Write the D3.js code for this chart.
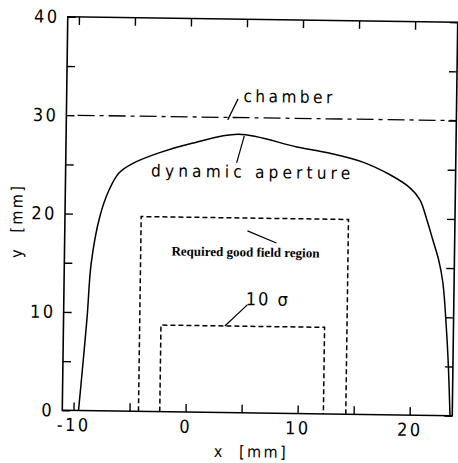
<!DOCTYPE html>
<html>
<head>
<meta charset="utf-8">
<script src="https://cdn.jsdelivr.net/npm/d3@7"></script>
<style>
  html, body { margin: 0; padding: 0; background: #fff; }
  svg { display: block; }
  .num { font-family: "Liberation Sans Narrow", "DejaVu Sans Condensed", sans-serif; font-stretch: condensed; }
</style>
</head>
<body>
<svg></svg>
<script>
var width = 458,
    height = 463,
    margin = { top: 19.5, left: 65, right: 3, bottom: 50 }
var plotW = width - margin.left - margin.right,
    plotH = height - margin.top - margin.bottom

// dynamic aperture boundary (mm)
var apertureX = [-9.55, -9.35, -8.9, -8.6, -7.9, -7.1, -6.24, -5.0, -2.7, 0.33, 4.4, 9.6, 12.56, 15.5, 17.95, 19.75, 20.65, 21.3, 21.86, 22.4, 22.8, 23.2, 23.4, 23.6]
var apertureY = [0, 2.8, 9.5, 15.0, 19.7, 22.45, 24.2, 25.2, 26.3, 27.35, 28.3, 27.1, 26.5, 25.65, 24.4, 23.1, 21.9, 19.85, 17.8, 15.8, 13.5, 8.4, 4.9, 0]

var chamberY = 30
// dashed boxes: [xmin, xmax, ytop]
var goodField = [-4.2, 14.3, 19.8]
var tenSigma = [-2.3, 12.3, 8.8]

var xTicks = [-10, -5, 0, 5, 10, 15, 20]
var yTicks = [0, 5, 10, 15, 20, 25, 30, 35, 40]
var xDomain = [-11, 23.8]
var yDomain = [0, 40]

var x = d3.scaleLinear().domain(xDomain).range([0, plotW])
var y = d3.scaleLinear().domain(yDomain).range([plotH, 0])

var svg = d3.select("svg").attr("width", width).attr("height", height)
var chart = svg.append("g")
    .attr("transform", "rotate(0.8,260,216) translate(" + margin.left + "," + margin.top + ")")

function lbl(step) {
    return function(d) { return d % step === 0 ? String(d) : "" }
}

var xb = chart.append("g").attr("transform", "translate(0," + plotH + ")")
    .call(d3.axisBottom(x).tickValues(xTicks).tickSize(-8).tickPadding(8).tickFormat(lbl(10)))
var xt = chart.append("g")
    .call(d3.axisTop(x).tickValues(xTicks).tickSize(-8).tickFormat(""))
var yl = chart.append("g")
    .call(d3.axisLeft(y).tickValues(yTicks).tickSize(-8).tickPadding(8).tickFormat(lbl(10)))
var yr = chart.append("g").attr("transform", "translate(" + plotW + ",0)")
    .call(d3.axisRight(y).tickValues(yTicks).tickSize(-8).tickFormat(""))

;[xb, xt, yl, yr].forEach(function(g) {
    g.select(".domain").remove()
    g.selectAll(".tick line").attr("stroke", "#000").attr("stroke-width", 1.4)
    g.selectAll("text").attr("class", "num").attr("font-size", 18).attr("letter-spacing", 2.5).attr("fill", "#000")
})

chart.append("rect")
    .attr("width", plotW).attr("height", plotH)
    .attr("fill", "none").attr("stroke", "#000").attr("stroke-width", 1.6)

// chamber
chart.append("line")
    .attr("x1", x(-10)).attr("x2", x(xDomain[1]))
    .attr("y1", y(chamberY)).attr("y2", y(chamberY))
    .attr("stroke", "#000").attr("stroke-width", 1.3)
    .attr("stroke-dasharray", "17,5,4,5")

// dashed boxes
function box(b) {
    return "M" + x(b[0]) + "," + y(0) + "V" + y(b[2]) + "H" + x(b[1]) + "V" + y(0)
}
;[goodField, tenSigma].forEach(function(b) {
    chart.append("path").attr("d", box(b))
        .attr("fill", "none").attr("stroke", "#000").attr("stroke-width", 1.5)
        .attr("stroke-dasharray", "5,3")
})

// dynamic aperture
var pts = apertureX.map(function(v, i) { return [v, apertureY[i]] })
chart.append("path")
    .datum(pts)
    .attr("d", d3.line().x(function(d) { return x(d[0]) }).y(function(d) { return y(d[1]) }).curve(d3.curveCatmullRom.alpha(0.5)))
    .attr("fill", "none").attr("stroke", "#000").attr("stroke-width", 1.5)

// annotations
function leader(a, b) {
    chart.append("line")
        .attr("x1", x(a[0])).attr("y1", y(a[1]))
        .attr("x2", x(b[0])).attr("y2", y(b[1]))
        .attr("stroke", "#000").attr("stroke-width", 1.2)
}
function note(t, p, size, spacing, cls) {
    return chart.append("text").attr("class", cls || "num")
        .attr("x", x(p[0])).attr("y", y(p[1]))
        .attr("text-anchor", "middle").attr("dominant-baseline", "central")
        .attr("font-size", size).attr("letter-spacing", spacing).attr("fill", "#000")
        .text(t)
}
leader([3.4, 29.75], [4.3, 31.9])
note("chamber", [8.9, 32.2], 17, 3.5)
leader([4.9, 28.15], [4.25, 25.4])
note("dynamic aperture", [5.7, 24.5], 17, 4.2)
leader([5.3, 18.5], [7.9, 17.3])
note("Required good field region", [5.15, 16.35], 13, 0, "serif")
    .attr("font-family", "Liberation Serif, serif").attr("font-weight", "bold")
leader([3.4, 8.8], [5.4, 11.0])
note("10 σ", [7.2, 11.6], 18, 2)

// axis titles
chart.append("text").attr("class", "num")
    .attr("x", x(5.9)).attr("y", plotH + 39)
    .attr("text-anchor", "middle").attr("dominant-baseline", "central")
    .attr("font-size", 16).attr("letter-spacing", 2.5)
    .attr("xml:space", "preserve")
    .text("x  [mm]")
chart.append("text").attr("class", "num")
    .attr("transform", "translate(" + (-48) + "," + y(19.2) + ") rotate(-90)")
    .attr("text-anchor", "middle").attr("dominant-baseline", "central")
    .attr("font-size", 16).attr("letter-spacing", 2.5)
    .attr("xml:space", "preserve")
    .text("y  [mm]")
</script>
</body>
</html>
